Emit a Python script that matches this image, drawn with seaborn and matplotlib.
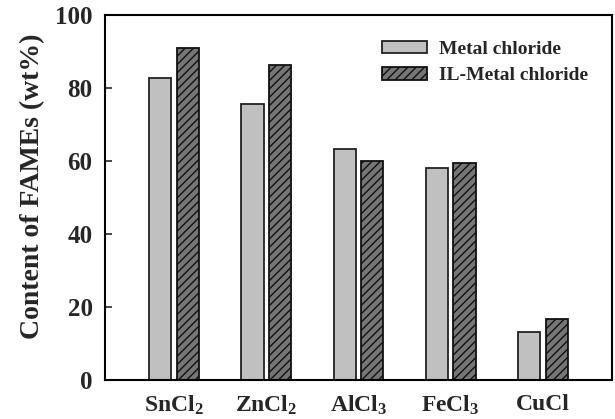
import pandas as pd
import seaborn as sns
import matplotlib.pyplot as plt

catalysts = ['SnCl$_2$', 'ZnCl$_2$', 'AlCl$_3$', 'FeCl$_3$', 'CuCl']
metal_chloride = [82.7, 75.6, 63.2, 58.2, 13.1]
il_metal_chloride = [91.0, 86.3, 60.0, 59.4, 16.6]
series_names = ['Metal chloride', 'IL-Metal chloride']

sns.set_style('ticks')
plt.rcParams['font.family'] = ['Liberation Serif', 'DejaVu Serif']
plt.rcParams['font.weight'] = 'bold'
plt.rcParams['mathtext.fontset'] = 'custom'
plt.rcParams['mathtext.rm'] = 'Liberation Serif:bold'
plt.rcParams['mathtext.it'] = 'Liberation Serif:bold'
plt.rcParams['mathtext.bf'] = 'Liberation Serif:bold'
plt.rcParams['hatch.linewidth'] = 1.0

df = pd.DataFrame({
    'catalyst': catalysts * 2,
    'content': metal_chloride + il_metal_chloride,
    'type': [series_names[0]] * 5 + [series_names[1]] * 5,
})

fig = plt.figure(figsize=(6.15, 4.19), dpi=100)
ax = fig.add_axes([105 / 615, 1 - 380 / 419, 507 / 615, 365 / 419])

sns.barplot(data=df, x='catalyst', y='content', hue='type',
            palette=['#c0c0c0', '#767676'], width=0.6, gap=0.2,
            saturation=1, linewidth=1.3, edgecolor='#222222', ax=ax)

# hatch the IL series
for bar in ax.containers[1]:
    bar.set_hatch('////')
    bar.set_edgecolor('#111111')

ax.set_xlim(-0.75, 4.75)
ax.set_ylim(0, 100)
ax.set_yticks([0, 20, 40, 60, 80, 100])
ax.set_xlabel('')
ax.set_ylabel('Content of FAMEs (wt%)', fontsize=20, fontweight='bold')
ax.yaxis.set_label_coords(-0.118, 0.53)
ax.tick_params(axis='y', direction='in', length=5, width=1.2, labelsize=18, pad=9)
ax.tick_params(axis='x', length=0, labelsize=17, pad=10)
for lab in ax.get_xticklabels() + ax.get_yticklabels():
    lab.set_fontweight('bold')
for sp in ax.spines.values():
    sp.set_visible(True)
    sp.set_linewidth(1.5)
    sp.set_color('black')

ax.legend(ax.containers, series_names, loc='upper left',
          bbox_to_anchor=(0.621, 0.903), bbox_transform=fig.transFigure,
          frameon=False, borderpad=0, borderaxespad=0,
          handlelength=2.3, handleheight=0.6, handletextpad=0.65,
          labelspacing=0.5, prop={'weight': 'bold', 'size': 14})

fig.savefig('out.png', dpi=100)
